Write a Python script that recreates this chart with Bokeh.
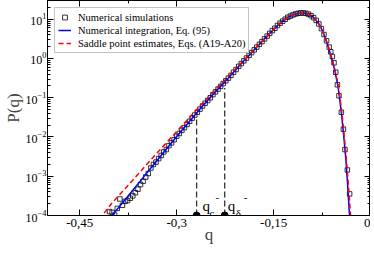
from bokeh.plotting import figure
from bokeh.models import (FixedTicker, LinearAxis, LogAxis, CustomJSTickFormatter,
                          LogTickFormatter, Label)
from bokeh.embed import file_html
from bokeh.resources import INLINE

# ---- data (P given as log10 P) ----
sim_q = [-0.404, -0.400, -0.396, -0.392, -0.388, -0.384, -0.380, -0.376, -0.372, -0.368,
         -0.364, -0.360, -0.356, -0.352, -0.348, -0.344, -0.340, -0.336, -0.332, -0.328,
         -0.324, -0.320, -0.316, -0.312, -0.308, -0.304, -0.300, -0.296, -0.292, -0.288,
         -0.284, -0.280, -0.276, -0.272, -0.268, -0.264, -0.260, -0.256, -0.252, -0.248,
         -0.244, -0.240, -0.236, -0.232, -0.228, -0.224, -0.220, -0.216, -0.212, -0.208,
         -0.204, -0.200, -0.196, -0.192, -0.188, -0.184, -0.180, -0.176, -0.172, -0.168,
         -0.164, -0.160, -0.156, -0.152, -0.148, -0.144, -0.140, -0.136, -0.132, -0.128,
         -0.124, -0.120, -0.116, -0.112, -0.108, -0.104, -0.100, -0.096, -0.092, -0.088,
         -0.084, -0.080, -0.076, -0.072, -0.068, -0.064, -0.0615, -0.059, -0.0565, -0.0538,
         -0.0512, -0.0488, -0.0451, -0.0420, -0.0395, -0.0358, -0.0323]
sim_logp = [-3.90, -3.92, -3.99, -3.82, -3.58, -3.74, -3.64, -3.62, -3.56, -3.50,
            -3.42, -3.33, -3.21, -3.13, -3.02, -2.93, -2.79, -2.70, -2.64, -2.55,
            -2.47, -2.38, -2.32, -2.22, -2.15, -2.07, -1.98, -1.91, -1.83, -1.76,
            -1.68, -1.60, -1.52, -1.44, -1.37, -1.29, -1.21, -1.14, -1.07, -1.00,
            -0.92, -0.85, -0.78, -0.71, -0.64, -0.57, -0.50, -0.43, -0.35, -0.28,
            -0.20, -0.13, -0.06, 0.01, 0.08, 0.15, 0.22, 0.29, 0.36, 0.43,
            0.50, 0.57, 0.64, 0.71, 0.77, 0.84, 0.90, 0.95, 1.00, 1.05,
            1.08, 1.11, 1.135, 1.15, 1.16, 1.16, 1.15, 1.13, 1.09, 1.04,
            0.97, 0.88, 0.76, 0.61, 0.45, 0.29, 0.17, 0.05, -0.11, -0.35,
            -0.67, -0.95, -1.37, -1.80, -2.32, -2.84, -3.45]

integ_q = [-0.405, -0.400, -0.380, -0.360, -0.340, -0.320, -0.300, -0.280, -0.260, -0.240,
           -0.220, -0.200, -0.180, -0.160, -0.150, -0.140, -0.130, -0.120, -0.110, -0.105,
           -0.100, -0.095, -0.090, -0.085, -0.080, -0.075, -0.070, -0.065, -0.060, -0.055,
           -0.050, -0.047, -0.044, -0.041, -0.038, -0.0355, -0.0335, -0.0320]
integ_logp = [-4.10, -4.00, -3.60, -3.20, -2.79, -2.39, -1.99, -1.60, -1.21, -0.85,
              -0.50, -0.13, 0.22, 0.57, 0.74, 0.90, 1.03, 1.115, 1.155, 1.16,
              1.15, 1.12, 1.07, 0.99, 0.88, 0.73, 0.52, 0.28, 0.00, -0.32,
              -0.74, -1.12, -1.55, -2.05, -2.60, -3.20, -3.72, -4.15]

saddle_q = [-0.420, -0.400, -0.380, -0.360, -0.340, -0.320, -0.300, -0.280, -0.260, -0.240,
            -0.220, -0.200, -0.180, -0.160, -0.150, -0.140, -0.130, -0.120, -0.110, -0.105,
            -0.100, -0.095, -0.090, -0.085, -0.080, -0.075, -0.070, -0.065, -0.060, -0.055,
            -0.050, -0.047, -0.044, -0.041, -0.038, -0.035, -0.033, -0.031, -0.030]
saddle_logp = [-4.10, -3.68, -3.32, -2.95, -2.58, -2.22, -1.86, -1.50, -1.14, -0.80,
               -0.46, -0.11, 0.23, 0.57, 0.74, 0.90, 1.025, 1.11, 1.15, 1.155,
               1.145, 1.115, 1.065, 0.99, 0.88, 0.735, 0.53, 0.29, 0.02, -0.29,
               -0.68, -1.03, -1.43, -1.92, -2.45, -3.05, -3.48, -3.95, -4.20]

mark_q = [-0.2692, -0.2257]          # q_c^-, q_delta^-
mark_top = [0.033, 0.178]
mark_bottom = [1e-4, 1e-4]

x_ticks = [-0.45, -0.3, -0.15, 0.0]
x_minor = [-0.375, -0.225, -0.075]
y_ticks = [1e-4, 1e-3, 1e-2, 1e-1, 1e0, 1e1]

sim_p = [10 ** v for v in sim_logp]
integ_p = [10 ** v for v in integ_logp]
saddle_p = [10 ** v for v in saddle_logp]
y_minor = [m * t for t in y_ticks for m in range(2, 10)]

FONT = "Liberation Serif"

p = figure(frame_width=323, frame_height=215, x_range=(-0.5, 0.0), y_range=(1e-4, 30),
           y_axis_type="log", output_backend="svg", toolbar_location=None,
           min_border_left=0, min_border_right=0, min_border_top=0, min_border_bottom=0)
p.grid.visible = False
p.outline_line_color = "black"
p.background_fill_color = "white"

def style(ax, fs="12px"):
    ax.major_tick_in = 6
    ax.major_tick_out = 0
    ax.minor_tick_in = 3
    ax.minor_tick_out = 0
    ax.axis_line_color = "black"
    ax.major_tick_line_color = "black"
    ax.minor_tick_line_color = "black"
    ax.major_label_text_font = FONT
    ax.major_label_text_font_size = fs
    ax.major_label_text_color = "black"
    ax.axis_label_text_font = FONT
    ax.axis_label_text_font_style = "normal"
    ax.axis_label_text_font_size = "17px"

p.xaxis.ticker = FixedTicker(ticks=x_ticks, minor_ticks=x_minor)
p.xaxis.formatter = CustomJSTickFormatter(code="""
    var v = Math.round(tick * 100) / 100;
    return String(v).replace('.', ',');
""")
p.xaxis.axis_label = "q"
p.xaxis.axis_label_standoff = -5
p.xaxis.major_label_standoff = 3
style(p.xaxis[0], "13px")

p.yaxis.ticker = FixedTicker(ticks=y_ticks, minor_ticks=y_minor)
p.yaxis.formatter = LogTickFormatter()
p.yaxis.axis_label = "P(q)"
p.yaxis.axis_label_standoff = 0
p.yaxis.major_label_standoff = 1
style(p.yaxis[0], "12px")

blank = CustomJSTickFormatter(code="return '';")
top_ax = LinearAxis(ticker=FixedTicker(ticks=x_ticks, minor_ticks=x_minor), formatter=blank,
                    major_label_standoff=0, axis_label_standoff=0)
style(top_ax, "1px")
p.add_layout(top_ax, "above")
right_ax = LogAxis(ticker=FixedTicker(ticks=y_ticks, minor_ticks=y_minor), formatter=blank,
                   major_label_standoff=0, axis_label_standoff=0)
style(right_ax, "1px")
p.add_layout(right_ax, "right")

p.scatter(sim_q, sim_p, marker="square", size=4.5, fill_color=None, line_color="black",
          line_width=0.8, legend_label="Numerical simulations")
p.line(integ_q, integ_p, line_color="#0000ff", line_width=1.5,
       legend_label="Numerical integration, Eq. (95)")
p.line(saddle_q, saddle_p, line_color="#ff0000", line_width=1.5, line_dash="5 3",
       legend_label="Saddle point estimates, Eqs. (A19-A20)")

p.segment(x0=mark_q, y0=mark_bottom, x1=mark_q, y1=mark_top, line_color="#333333",
          line_width=1.3, line_dash="6 3")
p.scatter(mark_q, mark_bottom, marker="circle", size=7, fill_color="black", line_color="black")

def lab(x, text, xo, yo, size):
    p.add_layout(Label(x=x, y=1e-4, text=text, x_offset=xo, y_offset=yo,
                       text_font=FONT, text_font_size=size, text_color="black",
                       text_baseline="alphabetic"))

lab(mark_q[0], "q", 6, 10, "15px")
lab(mark_q[0], "c", 13, 3, "11px")
lab(mark_q[0], "-", 19, 18, "11px")
lab(mark_q[1], "q", 3, 10, "15px")
lab(mark_q[1], "δ", 11, 3, "11px")
lab(mark_q[1], "-", 19, 18, "11px")

lg = p.legend[0]
lg.location = "top_left"
lg.margin = 7
lg.padding = 3
lg.spacing = 1
lg.glyph_width = 13
lg.glyph_height = 12
lg.label_height = 12
lg.label_standoff = 7
lg.label_text_font = FONT
lg.label_text_font_size = "10.5px"
lg.label_text_color = "black"
lg.border_line_color = "#888888"
lg.border_line_width = 1
lg.background_fill_alpha = 1

open("out.html", "w").write(file_html(p, INLINE))
